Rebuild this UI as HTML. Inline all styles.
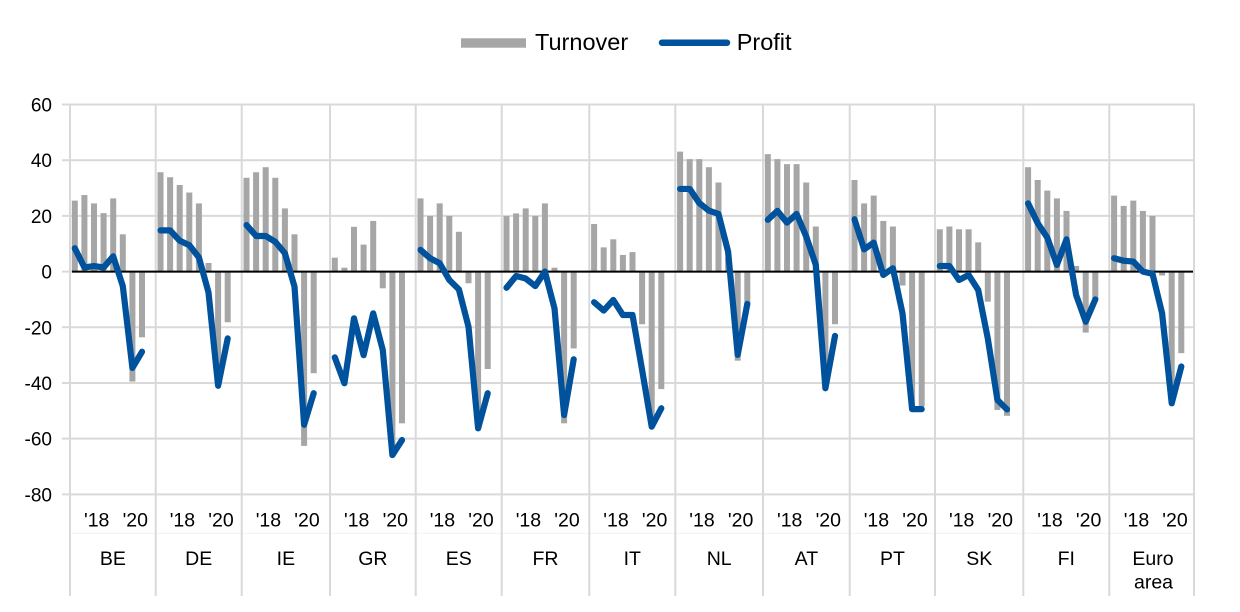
<!DOCTYPE html>
<html><head><meta charset="utf-8"><style>
html,body{margin:0;padding:0;background:#fff;}
svg{display:block;font-family:"Liberation Sans",Arial,sans-serif;}
</style></head><body>
<svg width="1240" height="612" viewBox="0 0 1240 612" xmlns="http://www.w3.org/2000/svg">
<!-- legend -->
<rect x="461" y="38.3" width="65" height="9.4" fill="#a6a6a6"/>
<text x="535" y="50" font-size="23.5" fill="#000">Turnover</text>
<line x1="662" y1="42.7" x2="727" y2="42.7" stroke="#00529c" stroke-width="6.5" stroke-linecap="round"/>
<text x="736.7" y="50" font-size="23.5" fill="#000">Profit</text>

<!-- horizontal gridlines -->
<g stroke="#d9d9d9" stroke-width="2">
<line x1="62" y1="104.56" x2="1194" y2="104.56"/>
<line x1="62" y1="160.24" x2="1194" y2="160.24"/>
<line x1="62" y1="215.92" x2="1194" y2="215.92"/>
<line x1="62" y1="271.6" x2="1194" y2="271.6"/>
<line x1="62" y1="327.28" x2="1194" y2="327.28"/>
<line x1="62" y1="382.96" x2="1194" y2="382.96"/>
<line x1="62" y1="438.64" x2="1194" y2="438.64"/>
<line x1="62" y1="494.32" x2="1194" y2="494.32"/>
</g>
<line x1="70" y1="533.3" x2="1194" y2="533.3" stroke="#f2f2f2" stroke-width="1"/>
<!-- vertical separators -->
<g stroke="#d9d9d9" stroke-width="2">
<line x1="70" y1="103.5" x2="70" y2="596"/>
<line x1="155.7" y1="103.5" x2="155.7" y2="596"/>
<line x1="241.7" y1="103.5" x2="241.7" y2="596"/>
<line x1="330" y1="103.5" x2="330" y2="596"/>
<line x1="415.7" y1="103.5" x2="415.7" y2="596"/>
<line x1="501.7" y1="103.5" x2="501.7" y2="596"/>
<line x1="589.3" y1="103.5" x2="589.3" y2="596"/>
<line x1="675.3" y1="103.5" x2="675.3" y2="596"/>
<line x1="763" y1="103.5" x2="763" y2="596"/>
<line x1="849.7" y1="103.5" x2="849.7" y2="596"/>
<line x1="935" y1="103.5" x2="935" y2="596"/>
<line x1="1023.3" y1="103.5" x2="1023.3" y2="596"/>
<line x1="1109.3" y1="103.5" x2="1109.3" y2="596"/>
<line x1="1194" y1="103.5" x2="1194" y2="596"/>
</g>

<!-- y tick labels -->
<g font-size="19" text-anchor="end" fill="#000">
<text x="52" y="111.5">60</text>
<text x="52" y="167.2">40</text>
<text x="52" y="222.9">20</text>
<text x="52" y="278.6">0</text>
<text x="52" y="334.3">-20</text>
<text x="52" y="390">-40</text>
<text x="52" y="445.6">-60</text>
<text x="52" y="501.3">-80</text>
</g>

<!-- bars -->
<g fill="#a6a6a6">
<g transform="translate(70,271.6) scale(1,-2.784)">
<rect x="1.8" y="0" width="6" height="25.5"/><rect x="11.4" y="0" width="6" height="27.5"/><rect x="21" y="0" width="6" height="24.5"/><rect x="30.6" y="0" width="6" height="21"/><rect x="40.2" y="0" width="6" height="26.3"/><rect x="49.8" y="0" width="6" height="13.4"/><rect x="59.4" y="-39.5" width="6" height="39.5"/><rect x="69" y="-23.6" width="6" height="23.6"/>
</g>
<g transform="translate(155.7,271.6) scale(1,-2.784)">
<rect x="1.8" y="0" width="6" height="35.7"/><rect x="11.4" y="0" width="6" height="33.9"/><rect x="21" y="0" width="6" height="31.1"/><rect x="30.6" y="0" width="6" height="28.4"/><rect x="40.2" y="0" width="6" height="24.5"/><rect x="49.8" y="0" width="6" height="3.1"/><rect x="59.4" y="-38" width="6" height="38"/><rect x="69" y="-18.2" width="6" height="18.2"/>
</g>
<g transform="translate(241.7,271.6) scale(1,-2.784)">
<rect x="1.8" y="0" width="6" height="33.7"/><rect x="11.4" y="0" width="6" height="35.7"/><rect x="21" y="0" width="6" height="37.5"/><rect x="30.6" y="0" width="6" height="33.7"/><rect x="40.2" y="0" width="6" height="22.7"/><rect x="49.8" y="0" width="6" height="13.4"/><rect x="59.4" y="-62.6" width="6" height="62.6"/><rect x="69" y="-36.5" width="6" height="36.5"/>
</g>
<g transform="translate(330,271.6) scale(1,-2.784)">
<rect x="1.8" y="0" width="6" height="5"/><rect x="11.4" y="0" width="6" height="1.4"/><rect x="21" y="0" width="6" height="16.1"/><rect x="30.6" y="0" width="6" height="9.7"/><rect x="40.2" y="0" width="6" height="18.2"/><rect x="49.8" y="-6" width="6" height="6"/><rect x="59.4" y="-65" width="6" height="65"/><rect x="69" y="-54.5" width="6" height="54.5"/>
</g>
<g transform="translate(415.7,271.6) scale(1,-2.784)">
<rect x="1.8" y="0" width="6" height="26.3"/><rect x="11.4" y="0" width="6" height="20"/><rect x="21" y="0" width="6" height="24.5"/><rect x="30.6" y="0" width="6" height="20"/><rect x="40.2" y="0" width="6" height="14.3"/><rect x="49.8" y="-4.2" width="6" height="4.2"/><rect x="59.4" y="-55" width="6" height="55"/><rect x="69" y="-35" width="6" height="35"/>
</g>
<g transform="translate(501.7,271.6) scale(1,-2.784)">
<rect x="1.8" y="0" width="6" height="20"/><rect x="11.4" y="0" width="6" height="20.9"/><rect x="21" y="0" width="6" height="22.7"/><rect x="30.6" y="0" width="6" height="20"/><rect x="40.2" y="0" width="6" height="24.5"/><rect x="49.8" y="0" width="6" height="1.4"/><rect x="59.4" y="-54.5" width="6" height="54.5"/><rect x="69" y="-27.6" width="6" height="27.6"/>
</g>
<g transform="translate(589.3,271.6) scale(1,-2.784)">
<rect x="1.8" y="0" width="6" height="17.1"/><rect x="11.4" y="0" width="6" height="8.7"/><rect x="21" y="0" width="6" height="11.6"/><rect x="30.6" y="0" width="6" height="6"/><rect x="40.2" y="0" width="6" height="7"/><rect x="49.8" y="-18.9" width="6" height="18.9"/><rect x="59.4" y="-55" width="6" height="55"/><rect x="69" y="-42.2" width="6" height="42.2"/>
</g>
<g transform="translate(675.3,271.6) scale(1,-2.784)">
<rect x="1.8" y="0" width="6" height="43.1"/><rect x="11.4" y="0" width="6" height="40.4"/><rect x="21" y="0" width="6" height="40.4"/><rect x="30.6" y="0" width="6" height="37.5"/><rect x="40.2" y="0" width="6" height="32"/><rect x="49.8" y="0" width="6" height="5"/><rect x="59.4" y="-32" width="6" height="32"/><rect x="69" y="-12" width="6" height="12"/>
</g>
<g transform="translate(763,271.6) scale(1,-2.784)">
<rect x="1.8" y="0" width="6" height="42.2"/><rect x="11.4" y="0" width="6" height="40.4"/><rect x="21" y="0" width="6" height="38.6"/><rect x="30.6" y="0" width="6" height="38.6"/><rect x="40.2" y="0" width="6" height="32"/><rect x="49.8" y="0" width="6" height="16.2"/><rect x="59.4" y="-40" width="6" height="40"/><rect x="69" y="-18.9" width="6" height="18.9"/>
</g>
<g transform="translate(849.7,271.6) scale(1,-2.784)">
<rect x="1.8" y="0" width="6" height="32.9"/><rect x="11.4" y="0" width="6" height="24.5"/><rect x="21" y="0" width="6" height="27.3"/><rect x="30.6" y="0" width="6" height="18.2"/><rect x="40.2" y="0" width="6" height="16.2"/><rect x="49.8" y="-5" width="6" height="5"/><rect x="59.4" y="-49" width="6" height="49"/><rect x="69" y="-48.5" width="6" height="48.5"/>
</g>
<g transform="translate(935,271.6) scale(1,-2.784)">
<rect x="1.8" y="0" width="6" height="15.2"/><rect x="11.4" y="0" width="6" height="16.2"/><rect x="21" y="0" width="6" height="15.2"/><rect x="30.6" y="0" width="6" height="15.2"/><rect x="40.2" y="0" width="6" height="10.5"/><rect x="49.8" y="-10.8" width="6" height="10.8"/><rect x="59.4" y="-49.7" width="6" height="49.7"/><rect x="69" y="-51.8" width="6" height="51.8"/>
</g>
<g transform="translate(1023.3,271.6) scale(1,-2.784)">
<rect x="1.8" y="0" width="6" height="37.5"/><rect x="11.4" y="0" width="6" height="32.9"/><rect x="21" y="0" width="6" height="29.1"/><rect x="30.6" y="0" width="6" height="26.3"/><rect x="40.2" y="0" width="6" height="21.8"/><rect x="49.8" y="0" width="6" height="2"/><rect x="59.4" y="-21.9" width="6" height="21.9"/><rect x="69" y="-10" width="6" height="10"/>
</g>
<g transform="translate(1109.3,271.6) scale(1,-2.784)">
<rect x="1.8" y="0" width="6" height="27.3"/><rect x="11.4" y="0" width="6" height="23.6"/><rect x="21" y="0" width="6" height="25.5"/><rect x="30.6" y="0" width="6" height="21.8"/><rect x="40.2" y="0" width="6" height="20"/><rect x="49.8" y="-1.4" width="6" height="1.4"/><rect x="59.4" y="-47" width="6" height="47"/><rect x="69" y="-29.3" width="6" height="29.3"/>
</g>
</g>

<!-- zero line -->
<line x1="72" y1="271.6" x2="1193" y2="271.6" stroke="#000" stroke-width="2"/>

<!-- profit lines -->
<g fill="none" stroke="#00529c" stroke-width="6.2" stroke-linejoin="round" stroke-linecap="round">
<polyline vector-effect="non-scaling-stroke" transform="translate(70,271.6) scale(1,-2.784)" points="4.8,8.4 14.4,1.5 24,2 33.6,1.5 43.2,5.5 52.8,-5.2 62.4,-34.6 72,-28.8"/>
<polyline vector-effect="non-scaling-stroke" transform="translate(155.7,271.6) scale(1,-2.784)" points="4.8,14.8 14.4,14.8 24,11.1 33.6,9.5 43.2,5.1 52.8,-7.5 62.4,-41 72,-24"/>
<polyline vector-effect="non-scaling-stroke" transform="translate(241.7,271.6) scale(1,-2.784)" points="4.8,16.7 14.4,12.8 24,12.8 33.6,10.7 43.2,6.6 52.8,-5.4 62.4,-55 72,-43.7"/>
<polyline vector-effect="non-scaling-stroke" transform="translate(330,271.6) scale(1,-2.784)" points="4.8,-30.8 14.4,-40.1 24,-16.8 33.6,-30 43.2,-15 52.8,-28.2 62.4,-65.9 72,-60.5"/>
<polyline vector-effect="non-scaling-stroke" transform="translate(415.7,271.6) scale(1,-2.784)" points="4.8,7.8 14.4,4.8 24,3 33.6,-3 43.2,-6.4 52.8,-19.8 62.4,-56.3 72,-43.7"/>
<polyline vector-effect="non-scaling-stroke" transform="translate(501.7,271.6) scale(1,-2.784)" points="4.8,-5.8 14.4,-1.6 24,-2.5 33.6,-5.2 43.2,0 52.8,-13.2 62.4,-51.5 72,-31.5"/>
<polyline vector-effect="non-scaling-stroke" transform="translate(589.3,271.6) scale(1,-2.784)" points="4.8,-11 14.4,-14 24,-10.2 33.6,-15.6 43.2,-15.6 52.8,-35.3 62.4,-55.7 72,-49.1"/>
<polyline vector-effect="non-scaling-stroke" transform="translate(675.3,271.6) scale(1,-2.784)" points="4.8,29.7 14.4,29.7 24,24.6 33.6,21.9 43.2,20.7 52.8,7.2 62.4,-29.9 72,-11.6"/>
<polyline vector-effect="non-scaling-stroke" transform="translate(763,271.6) scale(1,-2.784)" points="4.8,18.6 14.4,21.8 24,17.6 33.6,20.7 43.2,12.6 52.8,2.4 62.4,-41.9 72,-23.1"/>
<polyline vector-effect="non-scaling-stroke" transform="translate(849.7,271.6) scale(1,-2.784)" points="4.8,18.8 14.4,8 24,10.4 33.6,-1.2 43.2,1.2 52.8,-15 62.4,-49.4 72,-49.4"/>
<polyline vector-effect="non-scaling-stroke" transform="translate(935,271.6) scale(1,-2.784)" points="4.8,2 14.4,2 24,-3 33.6,-1.2 43.2,-6.6 52.8,-24 62.4,-46.1 72,-49.5"/>
<polyline vector-effect="non-scaling-stroke" transform="translate(1023.3,271.6) scale(1,-2.784)" points="4.8,24.5 14.4,17.4 24,12.2 33.6,2.4 43.2,11.6 52.8,-8.4 62.4,-18 72,-10"/>
<polyline vector-effect="non-scaling-stroke" transform="translate(1109.3,271.6) scale(1,-2.784)" points="4.8,4.8 14.4,3.9 24,3.6 33.6,0 43.2,-0.8 52.8,-15 62.4,-47.3 72,-34.1"/>
</g>

<!-- year labels -->
<g font-size="19.5" text-anchor="middle" fill="#000">
<text x="96.7" y="526.5">'18</text><text x="135.3" y="526.5">'20</text>
<text x="182.4" y="526.5">'18</text><text x="221" y="526.5">'20</text>
<text x="268.4" y="526.5">'18</text><text x="307" y="526.5">'20</text>
<text x="356.7" y="526.5">'18</text><text x="395.3" y="526.5">'20</text>
<text x="442.4" y="526.5">'18</text><text x="481" y="526.5">'20</text>
<text x="528.4" y="526.5">'18</text><text x="567" y="526.5">'20</text>
<text x="616" y="526.5">'18</text><text x="654.6" y="526.5">'20</text>
<text x="702" y="526.5">'18</text><text x="740.6" y="526.5">'20</text>
<text x="789.7" y="526.5">'18</text><text x="828.3" y="526.5">'20</text>
<text x="876.4" y="526.5">'18</text><text x="915" y="526.5">'20</text>
<text x="961.7" y="526.5">'18</text><text x="1000.3" y="526.5">'20</text>
<text x="1050" y="526.5">'18</text><text x="1088.6" y="526.5">'20</text>
<text x="1136.5" y="526.5">'18</text><text x="1175" y="526.5">'20</text>
</g>

<!-- country labels -->
<g font-size="19.5" text-anchor="middle" fill="#000">
<text x="112.9" y="565">BE</text>
<text x="198.7" y="565">DE</text>
<text x="285.9" y="565">IE</text>
<text x="372.9" y="565">GR</text>
<text x="458.7" y="565">ES</text>
<text x="545.5" y="565">FR</text>
<text x="632.3" y="565">IT</text>
<text x="719.2" y="565">NL</text>
<text x="806.4" y="565">AT</text>
<text x="892.4" y="565">PT</text>
<text x="979.2" y="565">SK</text>
<text x="1066.3" y="565">FI</text>
<text x="1153" y="565">Euro</text>
<text x="1153.5" y="588.3">area</text>
</g>
</svg>
</body></html>
